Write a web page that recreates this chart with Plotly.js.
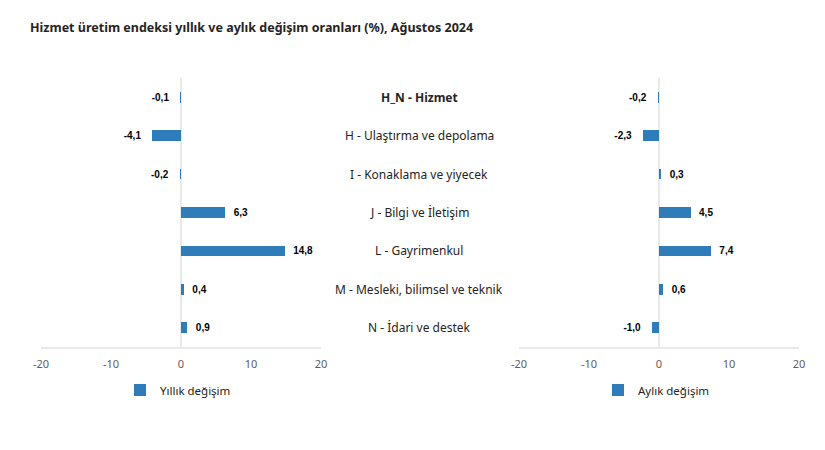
<!DOCTYPE html>
<html>
<head>
<meta charset="utf-8">
<script src="https://cdn.plot.ly/plotly-3.0.1.min.js"></script>
<style>html,body{margin:0;padding:0;background:#fff;}#chart{width:825px;height:450px;}</style>
</head>
<body>
<div id="chart"></div>
<script>
const categories = ["H_N - Hizmet", "H - Ulaştırma ve depolama", "I - Konaklama ve yiyecek", "J - Bilgi ve İletişim", "L - Gayrimenkul", "M - Mesleki, bilimsel ve teknik", "N - İdari ve destek"];
const yillik = [-0.1, -4.1, -0.2, 6.3, 14.8, 0.4, 0.9];
const aylik = [-0.2, -2.3, 0.3, 4.5, 7.4, 0.6, -1.0];
const seriesNames = ["Yıllık değişim", "Aylık değişim"];
const tickVals = [-20, -10, 0, 10, 20];

const barColor = "#2e7cba";
const NB = "\u00a0";
const fmt = v => {
  const s = v.toFixed(1).replace(".", ",");
  return v < 0 ? s + NB + NB + NB : NB + NB + s;
};

function barTrace(vals, name, xa, leg) {
  return {
    type: "bar", orientation: "h",
    x: vals, y: categories, name: name,
    xaxis: xa, yaxis: "y", legend: leg,
    marker: {color: barColor},
    width: 0.28,
    text: vals.map(fmt),
    textposition: "outside",
    constraintext: "none",
    cliponaxis: false,
    textfont: {family: "Liberation Sans, Arial, sans-serif", size: 10, color: "#000", weight: "bold"},
    hoverinfo: "x+y"
  };
}

const data = [
  barTrace(yillik, seriesNames[0], "x", "legend"),
  barTrace(aylik, seriesNames[1], "x2", "legend2")
];

const axisCommon = {
  range: [-20, 20], tickvals: tickVals, ticktext: tickVals.map(String),
  showgrid: false, zeroline: true, zerolinecolor: "#e9e9e9", zerolinewidth: 2,
  showline: true, linecolor: "#e9e9e9", linewidth: 2,
  ticks: "", ticklabelstandoff: 6, fixedrange: true,
  tickfont: {family: "Noto Sans, sans-serif", size: 11, color: "#605e5c"}
};

const legendFont = {family: "Noto Sans, sans-serif", size: 11.5, color: "#252423"};

const layout = {
  width: 825, height: 450,
  margin: {l: 0, r: 0, t: 0, b: 0},
  paper_bgcolor: "#fff", plot_bgcolor: "#fff",
  font: {family: "Noto Sans, sans-serif", color: "#252423"},
  title: {
    text: "<b>Hizmet üretim endeksi yıllık ve aylık değişim oranları (%), Ağustos 2024</b>",
    x: 30/825, xanchor: "left", xref: "container",
    y: 1 - 28/450, yanchor: "middle", yref: "container",
    font: {family: "Noto Sans, sans-serif", size: 12.5, color: "#252423"}
  },
  xaxis: Object.assign({domain: [41/825, 321/825], anchor: "y"}, axisCommon),
  xaxis2: Object.assign({domain: [519/825, 799/825], anchor: "y"}, axisCommon),
  yaxis: {
    domain: [1 - 347/450, 1 - 78/450], type: "category",
    autorange: "reversed", showticklabels: false, showgrid: false,
    zeroline: false, showline: false, ticks: "", fixedrange: true
  },
  bargap: 0,
  showlegend: true,
  legend: {
    x: 120/825, xanchor: "left", y: 1 - 390/450, yanchor: "middle",
    font: legendFont, bgcolor: "rgba(0,0,0,0)"
  },
  legend2: {
    x: 598/825, xanchor: "left", y: 1 - 390/450, yanchor: "middle",
    font: legendFont, bgcolor: "rgba(0,0,0,0)"
  },
  annotations: categories.map((c, i) => ({
    text: i === 0 ? "<b>" + c + "</b>" : c,
    x: 419/825, xref: "paper", xanchor: "center",
    y: c, yref: "y", yanchor: "middle",
    showarrow: false,
    font: {family: "Noto Sans, sans-serif", size: 12, color: "#252423"}
  }))
};

Plotly.newPlot("chart", data, layout, {displayModeBar: false, staticPlot: true});
</script>
</body>
</html>
